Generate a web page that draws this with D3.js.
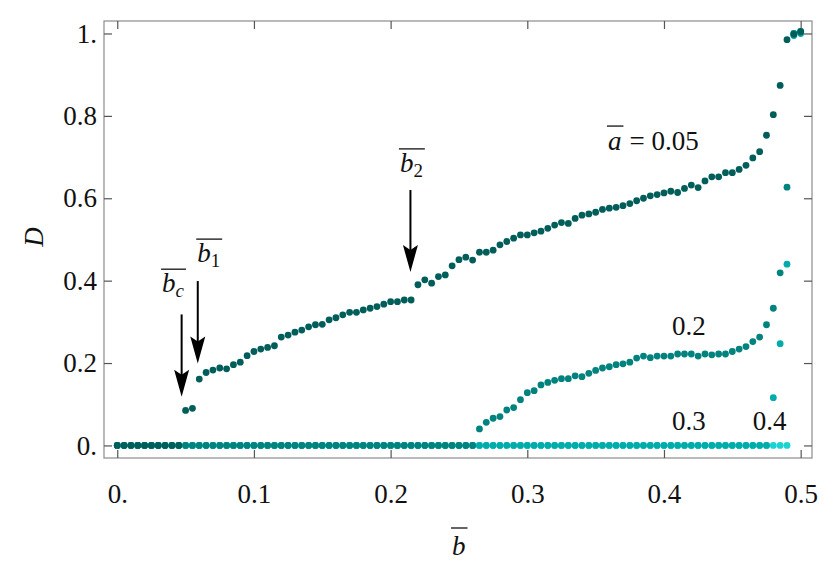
<!DOCTYPE html>
<html>
<head>
<meta charset="utf-8">
<script src="https://cdn.jsdelivr.net/npm/d3@7"></script>
<style>
body { margin: 0; background: #fff; }
svg { display: block; }
text { font-family: "Liberation Serif", "Times New Roman", Tinos, "DejaVu Serif", "Noto Serif", FreeSerif, Times, serif; fill: #111; }
</style>
</head>
<body>
<svg width="834" height="573"></svg>
<script>
// b grid shared by all four series
var bValues = [
    0, 0.005, 0.01, 0.015, 0.02, 0.025, 0.03, 0.035, 0.04, 0.045,
    0.05, 0.055, 0.06, 0.065, 0.07, 0.075, 0.08, 0.085, 0.09, 0.095,
    0.1, 0.105, 0.11, 0.115, 0.12, 0.125, 0.13, 0.135, 0.14, 0.145,
    0.15, 0.155, 0.16, 0.165, 0.17, 0.175, 0.18, 0.185, 0.19, 0.195,
    0.2, 0.205, 0.21, 0.215, 0.22, 0.225, 0.23, 0.235, 0.24, 0.245,
    0.25, 0.255, 0.26, 0.265, 0.27, 0.275, 0.28, 0.285, 0.29, 0.295,
    0.3, 0.305, 0.31, 0.315, 0.32, 0.325, 0.33, 0.335, 0.34, 0.345,
    0.35, 0.355, 0.36, 0.365, 0.37, 0.375, 0.38, 0.385, 0.39, 0.395,
    0.4, 0.405, 0.41, 0.415, 0.42, 0.425, 0.43, 0.435, 0.44, 0.445,
    0.45, 0.455, 0.46, 0.465, 0.47, 0.475, 0.48, 0.485, 0.49, 0.495,
    0.5
];

// D for a = 0.05
var dA005 = [
    0, 0, 0, 0, 0, 0, 0, 0, 0, 0,
    0.085, 0.090, 0.161, 0.177, 0.183, 0.188, 0.186, 0.196, 0.202, 0.218,
    0.228, 0.234, 0.238, 0.242, 0.263, 0.268, 0.275, 0.280, 0.288, 0.293,
    0.294, 0.305, 0.310, 0.317, 0.323, 0.323, 0.329, 0.333, 0.337, 0.343,
    0.349, 0.349, 0.353, 0.353, 0.390, 0.402, 0.394, 0.410, 0.414, 0.436,
    0.451, 0.457, 0.450, 0.469, 0.469, 0.474, 0.487, 0.495, 0.503, 0.511,
    0.511, 0.516, 0.520, 0.527, 0.535, 0.541, 0.539, 0.551, 0.559, 0.562,
    0.566, 0.573, 0.576, 0.578, 0.582, 0.587, 0.594, 0.600, 0.606, 0.609,
    0.613, 0.617, 0.614, 0.624, 0.632, 0.626, 0.642, 0.652, 0.652, 0.662,
    0.662, 0.670, 0.680, 0.698, 0.713, 0.753, 0.803, 0.874, 0.985, 0.998,
    1.005
];

// D for a = 0.2
var dA02 = [
    0, 0, 0, 0, 0, 0, 0, 0, 0, 0,
    0, 0, 0, 0, 0, 0, 0, 0, 0, 0,
    0, 0, 0, 0, 0, 0, 0, 0, 0, 0,
    0, 0, 0, 0, 0, 0, 0, 0, 0, 0,
    0, 0, 0, 0, 0, 0, 0, 0, 0, 0,
    0, 0, 0, 0.040, 0.056, 0.066, 0.070, 0.086, 0.092, 0.111,
    0.128, 0.133, 0.147, 0.153, 0.158, 0.162, 0.162, 0.169, 0.167, 0.175,
    0.182, 0.188, 0.191, 0.196, 0.198, 0.202, 0.212, 0.217, 0.213, 0.217,
    0.217, 0.217, 0.222, 0.222, 0.222, 0.217, 0.222, 0.220, 0.222, 0.222,
    0.228, 0.234, 0.240, 0.252, 0.263, 0.293, 0.333, 0.419, 0.627, 1.000,
    1.003
];

// D for a = 0.3
var dA03 = [
    0, 0, 0, 0, 0, 0, 0, 0, 0, 0,
    0, 0, 0, 0, 0, 0, 0, 0, 0, 0,
    0, 0, 0, 0, 0, 0, 0, 0, 0, 0,
    0, 0, 0, 0, 0, 0, 0, 0, 0, 0,
    0, 0, 0, 0, 0, 0, 0, 0, 0, 0,
    0, 0, 0, 0, 0, 0, 0, 0, 0, 0,
    0, 0, 0, 0, 0, 0, 0, 0, 0, 0,
    0, 0, 0, 0, 0, 0, 0, 0, 0, 0,
    0, 0, 0, 0, 0, 0, 0, 0, 0, 0,
    0, 0, 0, 0, 0, 0, 0.116, 0.247, 0.440, 0.995,
    1.000
];

// D for a = 0.4
var dA04 = [
    0, 0, 0, 0, 0, 0, 0, 0, 0, 0,
    0, 0, 0, 0, 0, 0, 0, 0, 0, 0,
    0, 0, 0, 0, 0, 0, 0, 0, 0, 0,
    0, 0, 0, 0, 0, 0, 0, 0, 0, 0,
    0, 0, 0, 0, 0, 0, 0, 0, 0, 0,
    0, 0, 0, 0, 0, 0, 0, 0, 0, 0,
    0, 0, 0, 0, 0, 0, 0, 0, 0, 0,
    0, 0, 0, 0, 0, 0, 0, 0, 0, 0,
    0, 0, 0, 0, 0, 0, 0, 0, 0, 0,
    0, 0, 0, 0, 0, 0, 0, 0, 0, 1.000,
    1.005
];

var xTickValues = [0, 0.1, 0.2, 0.3, 0.4, 0.5];
var xTickLabels = ["0.", "0.1", "0.2", "0.3", "0.4", "0.5"];
var yTickValues = [0, 0.2, 0.4, 0.6, 0.8, 1];
var yTickLabels = ["0.", "0.2", "0.4", "0.6", "0.8", "1."];

// arrows: b position, start D, tip D
var arrowB = [0.0471, 0.0589, 0.2145];
var arrowFrom = [0.318, 0.399, 0.620];
var arrowTo = [0.118, 0.199, 0.421];
var arrowSubs = ["c", "1", "2"];

window.addEventListener("DOMContentLoaded", function () {
    var W = 834, H = 573;
    var left = 104, right = 812, top = 21, bottom = 458;
    var fontSize = 27;
    var serif = "'Liberation Serif', 'Times New Roman', Tinos, 'DejaVu Serif', 'Noto Serif', FreeSerif, Times, serif";

    var x = d3.scaleLinear().domain([-0.0097, 0.5083]).range([left, right]);
    var y = d3.scaleLinear().domain([-0.0305, 1.0303]).range([bottom, top]);

    var svg = d3.select("svg").attr("width", W).attr("height", H);

    // frame
    svg.append("rect")
        .attr("x", left).attr("y", top)
        .attr("width", right - left).attr("height", bottom - top)
        .style("fill", "none").style("stroke", "#8c8c8c").style("stroke-width", "1.2px");

    function styleAxis(g) {
        g.attr("font-family", null);
        g.select(".domain").remove();
        g.selectAll(".tick line").style("stroke", "#555").style("stroke-width", "1.2px");
        g.selectAll(".tick text")
            .style("font-family", serif)
            .style("font-size", fontSize + "px")
            .style("fill", "#111");
    }

    svg.append("g").attr("transform", "translate(0," + bottom + ")")
        .call(d3.axisBottom(x).tickValues(xTickValues).tickSizeInner(-8).tickSizeOuter(0).tickPadding(26)
            .tickFormat(function (d, i) { return xTickLabels[i]; }))
        .call(styleAxis);
    svg.append("g").attr("transform", "translate(0," + top + ")")
        .call(d3.axisTop(x).tickValues(xTickValues).tickSizeInner(-8).tickSizeOuter(0).tickFormat(""))
        .call(styleAxis);
    svg.append("g").attr("transform", "translate(" + left + ",0)")
        .call(d3.axisLeft(y).tickValues(yTickValues).tickSizeInner(-8).tickSizeOuter(0).tickPadding(7)
            .tickFormat(function (d, i) { return yTickLabels[i]; }))
        .call(styleAxis);
    svg.append("g").attr("transform", "translate(" + right + ",0)")
        .call(d3.axisRight(y).tickValues(yTickValues).tickSizeInner(-8).tickSizeOuter(0).tickFormat(""))
        .call(styleAxis);

    // points, lightest series first so a = 0.05 sits on top
    var series = [
        { values: dA04, color: "#1ad4d4" },
        { values: dA03, color: "#00aca9" },
        { values: dA02, color: "#00827e" },
        { values: dA005, color: "#005e5a" }
    ];
    series.forEach(function (s) {
        svg.append("g")
            .selectAll("circle")
            .data(bValues)
            .enter()
            .append("circle")
            .attr("cx", function (d) { return x(d); })
            .attr("cy", function (d, i) { return y(s.values[i]); })
            .attr("r", 3.4)
            .style("fill", s.color);
    });

    // overlined italic symbol with optional subscript
    function barSymbol(px, py, base, sub, subItalic, lift) {
        var t = svg.append("text")
            .attr("x", px).attr("y", py)
            .style("font-family", serif)
            .style("font-size", fontSize + "px");
        t.append("tspan").style("font-style", "italic").text(base);
        if (sub) {
            t.append("tspan")
                .attr("dy", "0.28em")
                .style("font-size", (fontSize * 0.7) + "px")
                .style("font-style", subItalic ? "italic" : "normal")
                .text(sub);
        }
        var w = t.node().getComputedTextLength();
        var oy = py - (lift || 23);
        svg.append("line")
            .attr("x1", px - 1).attr("x2", px + w + 2)
            .attr("y1", oy).attr("y2", oy)
            .style("stroke", "#111").style("stroke-width", "1.3px");
        return w;
    }

    // arrows
    arrowB.forEach(function (b, i) {
        var ax = x(b), y0 = y(arrowFrom[i]), y1 = y(arrowTo[i]);
        svg.append("line")
            .attr("x1", ax).attr("x2", ax)
            .attr("y1", y0).attr("y2", y1 - 20)
            .style("stroke", "#000").style("stroke-width", "2px");
        svg.append("path")
            .attr("d", "M" + (ax - 7.5) + "," + (y1 - 27) + "L" + ax + "," + y1 + "L" + (ax + 7.5) + "," + (y1 - 27) +
                "L" + ax + "," + (y1 - 22) + "Z")
            .style("fill", "#000");
    });

    barSymbol(x(0.0328), y(0.372), "b", arrowSubs[0], true);
    barSymbol(x(0.0585), y(0.445), "b", arrowSubs[1], false);
    barSymbol(x(0.2068), y(0.664), "b", arrowSubs[2], false);

    // series labels
    var aw = barSymbol(x(0.359), y(0.717), "a", null, true, 24);
    svg.append("text")
        .attr("x", x(0.359) + aw + 8).attr("y", y(0.717))
        .style("font-family", serif)
        .style("font-size", fontSize + "px")
        .text("= 0.05");
    [["0.2", 0.4058, 0.268], ["0.3", 0.4058, 0.0374], ["0.4", 0.465, 0.0374]].forEach(function (l) {
        svg.append("text").attr("x", x(l[1])).attr("y", y(l[2]))
            .style("font-family", serif).style("font-size", fontSize + "px").text(l[0]);
    });

    // axis titles
    barSymbol(452, 555, "b", null, true, 27);
    svg.append("text")
        .attr("transform", "translate(43,237) rotate(-90)")
        .attr("text-anchor", "middle")
        .style("font-family", serif)
        .style("font-size", fontSize + "px")
        .style("font-style", "italic")
        .text("D");
});
</script>
</body>
</html>
